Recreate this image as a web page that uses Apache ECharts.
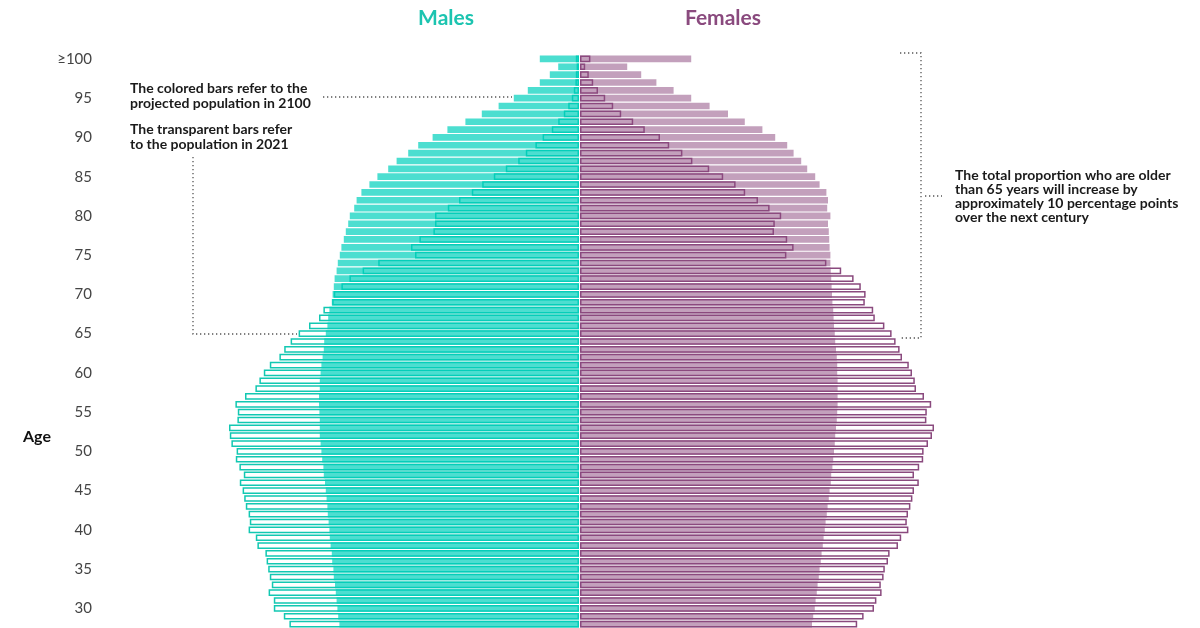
<!DOCTYPE html>
<html>
<head>
<meta charset="utf-8">
<script src="https://cdn.jsdelivr.net/npm/echarts@6/dist/echarts.min.js"></script>
<style>
html,body{margin:0;padding:0;background:#fff;}
#chart{width:1200px;height:628px;}
</style>
</head>
<body>
<div id="chart"></div>
<script>
// Ages from top (≥100) down to 28 (chart is cropped at the bottom)
const ages = [100,99,98,97,96,95,94,93,92,91,90,89,88,87,86,85,84,83,82,81,80,79,78,77,76,75,74,73,72,71,70,69,68,67,66,65,64,63,62,61,60,59,58,57,56,55,54,53,52,51,50,49,48,47,46,45,44,43,42,41,40,39,38,37,36,35,34,33,32,31,30,29,28];

// Share of total population (%) per single year of age
const males2021 = [0.008,0.006,0.008,0.009,0.013,0.018,0.027,0.038,0.052,0.068,0.091,0.109,0.133,0.152,0.183,0.213,0.242,0.268,0.300,0.328,0.360,0.360,0.364,0.399,0.420,0.410,0.502,0.541,0.574,0.594,0.613,0.617,0.639,0.650,0.675,0.701,0.721,0.737,0.749,0.773,0.788,0.799,0.809,0.835,0.859,0.853,0.854,0.875,0.873,0.869,0.856,0.858,0.849,0.838,0.848,0.841,0.837,0.833,0.826,0.823,0.826,0.808,0.804,0.784,0.781,0.777,0.773,0.768,0.776,0.763,0.763,0.738,0.724];
const males2100 = [0.098,0.052,0.073,0.098,0.128,0.163,0.201,0.243,0.284,0.329,0.366,0.402,0.427,0.456,0.477,0.504,0.524,0.544,0.556,0.562,0.573,0.577,0.583,0.588,0.594,0.598,0.603,0.606,0.611,0.613,0.616,0.618,0.624,0.627,0.629,0.633,0.637,0.638,0.641,0.644,0.646,0.648,0.648,0.650,0.650,0.649,0.648,0.648,0.648,0.646,0.644,0.642,0.639,0.638,0.635,0.633,0.631,0.629,0.628,0.626,0.624,0.623,0.621,0.618,0.617,0.614,0.613,0.610,0.608,0.606,0.604,0.602,0.599];
const females2021 = [0.026,0.013,0.022,0.033,0.045,0.063,0.083,0.103,0.133,0.162,0.200,0.223,0.256,0.281,0.323,0.358,0.389,0.413,0.445,0.474,0.503,0.487,0.485,0.518,0.534,0.516,0.616,0.653,0.684,0.702,0.714,0.712,0.733,0.737,0.761,0.779,0.789,0.799,0.805,0.822,0.830,0.837,0.840,0.860,0.878,0.867,0.866,0.885,0.880,0.870,0.859,0.858,0.848,0.835,0.847,0.835,0.831,0.826,0.820,0.817,0.821,0.803,0.795,0.774,0.770,0.762,0.759,0.752,0.754,0.741,0.735,0.709,0.693];
const females2100 = [0.278,0.118,0.153,0.191,0.234,0.278,0.324,0.370,0.412,0.456,0.488,0.518,0.534,0.553,0.568,0.588,0.599,0.616,0.620,0.618,0.626,0.620,0.622,0.623,0.624,0.626,0.626,0.627,0.628,0.629,0.630,0.631,0.633,0.634,0.635,0.637,0.638,0.640,0.642,0.643,0.643,0.644,0.644,0.644,0.644,0.643,0.642,0.640,0.638,0.637,0.635,0.633,0.631,0.628,0.627,0.624,0.622,0.619,0.617,0.614,0.612,0.609,0.607,0.604,0.602,0.599,0.597,0.594,0.592,0.589,0.587,0.583,0.580];

const ageLabels = ages.map(a => a === 100 ? '≥100' : String(a));

const TEAL_LINE = '#12c8b2';
const TEAL_FILL = 'rgba(0,208,188,0.70)';
const PLUM_LINE = '#8a4a7e';
const PLUM_FILL = 'rgba(140,72,126,0.52)';
const FONT = 'Lato, "Noto Sans", sans-serif';

const chart = echarts.init(document.getElementById('chart'), null, {renderer: 'canvas'});

const rowH = 7.9;
const gridTop = 55;
const gridH = rowH * ages.length;

const barCommon = {type: 'bar', barGap: '-100%', barCategoryGap: '15%', animation: false, silent: true};

const option = {
  backgroundColor: '#ffffff',
  animation: false,
  grid: [
    {left: 99, top: gridTop, width: 480, height: gridH},
    {left: 580, top: gridTop, width: 480, height: gridH}
  ],
  xAxis: [
    {gridIndex: 0, type: 'value', min: 0, max: 1.2, inverse: true, show: false},
    {gridIndex: 1, type: 'value', min: 0, max: 1.2, show: false}
  ],
  yAxis: [
    {gridIndex: 0, type: 'category', data: ageLabels, inverse: true,
     axisLine: {show: false}, axisTick: {show: false}, splitLine: {show: false},
     axisLabel: {interval: 4, margin: 7, fontSize: 15, color: '#444', fontFamily: FONT}},
    {gridIndex: 1, type: 'category', data: ageLabels, inverse: true, show: false}
  ],
  series: [
    Object.assign({}, barCommon, {name: 'Males 2021', xAxisIndex: 0, yAxisIndex: 0, data: males2021,
      itemStyle: {color: 'rgba(255,255,255,0)', borderColor: TEAL_LINE, borderWidth: 1.5}}),
    Object.assign({}, barCommon, {name: 'Males 2100', xAxisIndex: 0, yAxisIndex: 0, data: males2100,
      itemStyle: {color: TEAL_FILL}}),
    Object.assign({}, barCommon, {name: 'Females 2021', xAxisIndex: 1, yAxisIndex: 1, data: females2021,
      itemStyle: {color: 'rgba(255,255,255,0)', borderColor: PLUM_LINE, borderWidth: 1.5}}),
    Object.assign({}, barCommon, {name: 'Females 2100', xAxisIndex: 1, yAxisIndex: 1, data: females2100,
      itemStyle: {color: PLUM_FILL}})
  ],
  graphic: [
    {type: 'text', x: 446, y: 18, style: {text: 'Males', font: 'bold 21px ' + FONT, fill: '#1cc4b0', textAlign: 'center', textVerticalAlign: 'middle'}},
    {type: 'text', x: 723, y: 18, style: {text: 'Females', font: 'bold 21px ' + FONT, fill: '#8a4a7e', textAlign: 'center', textVerticalAlign: 'middle'}},
    {type: 'text', x: 23, y: 437, style: {text: 'Age', font: 'bold 16px ' + FONT, fill: '#111', textVerticalAlign: 'middle'}},
    {type: 'text', x: 130, y: 81, style: {text: 'The colored bars refer to the\nprojected population in 2100', font: 'bold 14px ' + FONT, fill: '#1a1a1a', lineHeight: 15}},
    {type: 'text', x: 130, y: 122, style: {text: 'The transparent bars refer\nto the population in 2021', font: 'bold 14px ' + FONT, fill: '#1a1a1a', lineHeight: 15}},
    {type: 'text', x: 955, y: 168, style: {text: 'The total proportion who are older\nthan 65 years will increase by\napproximately 10 percentage points\nover the next century', font: 'bold 14px ' + FONT, fill: '#1a1a1a', lineHeight: 14}},
    {type: 'polyline', shape: {points: [[323, 97], [512, 97]]}, style: {stroke: '#555', lineWidth: 1.3, lineDash: [1.3, 2.7], fill: null}},
    {type: 'polyline', shape: {points: [[193, 157], [193, 334], [297, 334]]}, style: {stroke: '#555', lineWidth: 1.3, lineDash: [1.3, 2.7], fill: null}},
    {type: 'polyline', shape: {points: [[900, 53], [921, 53], [921, 338], [899, 338]]}, style: {stroke: '#555', lineWidth: 1.3, lineDash: [1.3, 2.7], fill: null}},
    {type: 'polyline', shape: {points: [[925, 196], [942, 196]]}, style: {stroke: '#555', lineWidth: 1.3, lineDash: [1.3, 2.7], fill: null}}
  ]
};

chart.setOption(option);
</script>
</body>
</html>
